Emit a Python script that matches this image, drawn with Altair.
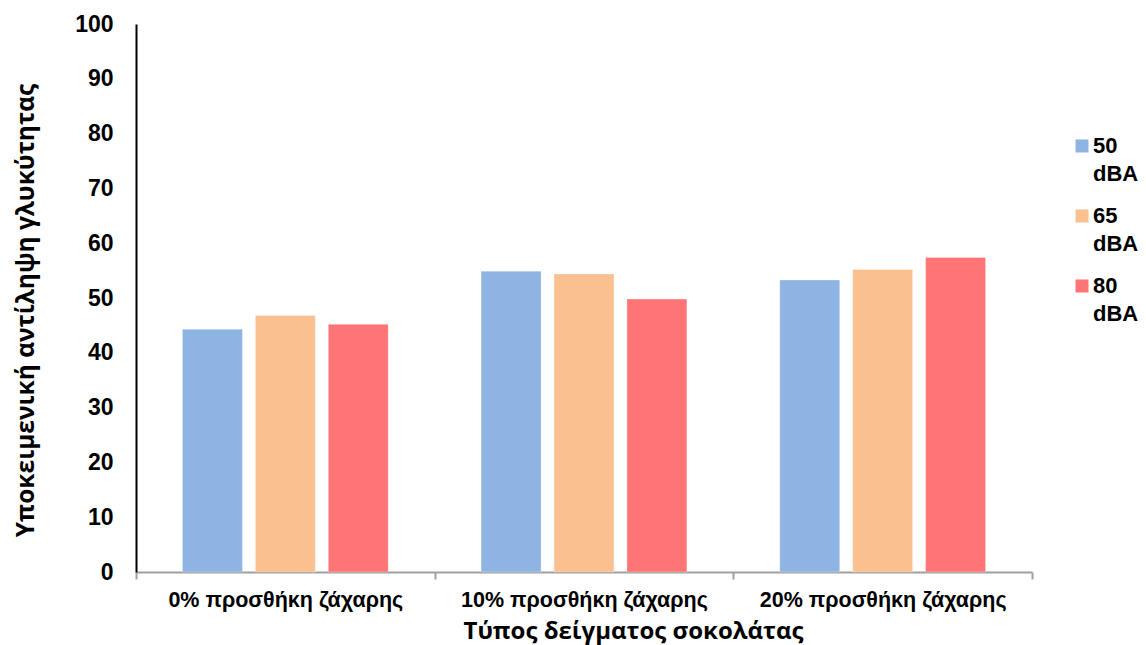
import altair as alt
import pandas as pd

categories = ["0% προσθήκη ζάχαρης", "10% προσθήκη ζάχαρης", "20% προσθήκη ζάχαρης"]
series = ["50 dBA", "65 dBA", "80 dBA"]
values_50 = [44.3, 54.9, 53.3]
values_65 = [46.8, 54.4, 55.2]
values_80 = [45.2, 49.8, 57.4]
colors = ["#8EB4E3", "#FAC090", "#FF7575"]

rows = []
for s, vals in zip(series, [values_50, values_65, values_80]):
    for c, v in zip(categories, vals):
        rows.append({"cat": c, "series": s, "value": v})
df = pd.DataFrame(rows)

W, H = 896, 548
LEFT, TOP = 136, 24

chart = alt.Chart(df).mark_bar(stroke="white", strokeWidth=0.6, strokeOpacity=0.5).encode(
    x=alt.X("cat:N", sort=categories,
            scale=alt.Scale(paddingInner=0, paddingOuter=0),
            axis=alt.Axis(title="Τύπος δείγματος σοκολάτας", labelAngle=0, labelLimit=0,
                          labelFont="Liberation Sans", labelFontWeight="bold", labelFontSize=21.5,
                          labelColor="black", labelPadding=10,
                          domainColor="#A0A0A0", domainWidth=2,
                          tickColor="#A0A0A0", tickWidth=2, tickSize=7, tickBand="extent",
                          titleFont="Open Sans", titleFontWeight="bold", titleFontSize=24,
                          titleColor="black", titleX=497, titleY=59, titleBaseline="middle",
                          titleAnchor="middle", titleAlign="center")),
    xOffset=alt.XOffset("series:N", sort=series,
                        scale=alt.Scale(paddingInner=0.178, paddingOuter=0.637)),
    y=alt.Y("value:Q", scale=alt.Scale(domain=[0, 100], nice=False),
            axis=alt.Axis(title="Υποκειμενική αντίληψη γλυκύτητας", values=list(range(0, 101, 10)),
                          grid=False, ticks=False, labelPadding=23,
                          labelFont="Liberation Sans", labelFontWeight="bold", labelFontSize=23,
                          labelColor="black", domainColor="black", domainWidth=2,
                          titleFont="Open Sans", titleFontWeight="bold", titleFontSize=24.5,
                          titleColor="black", titleX=-110, titleY=286, titleAngle=270,
                          titleBaseline="middle", titleAlign="center", titleAnchor="middle")),
    color=alt.Color("series:N", sort=series,
                    scale=alt.Scale(domain=series, range=colors),
                    legend=alt.Legend(title=None, orient="none", legendX=935, legendY=118,
                                      symbolType="M-1,-2.08H1V-0.08H-1Z", symbolSize=169,
                                      symbolStrokeWidth=0,
                                      labelFont="Liberation Sans", labelFontWeight="bold",
                                      labelFontSize=22, labelColor="black",
                                      labelBaseline="alphabetic", labelOffset=0,
                                      labelExpr="split(datum.label, ' ')",
                                      rowPadding=20, padding=0)),
).properties(
    width=W, height=H,
    autosize=alt.AutoSizeParams(type="none"),
    padding={"left": LEFT, "top": TOP, "right": 1146 - LEFT - W, "bottom": 645 - TOP - H},
).configure(
    style={"guide-label": {"lineHeight": 28}},
    view={"stroke": None, "strokeWidth": 0},
)

chart.save("out.html", embed_options={"renderer": "svg", "actions": False})
